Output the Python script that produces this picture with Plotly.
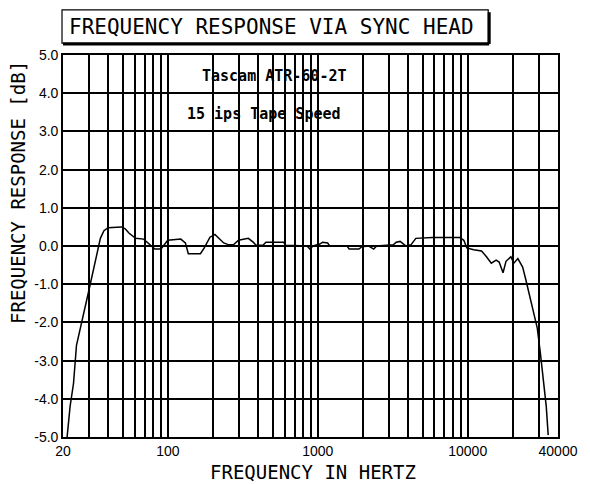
import plotly.graph_objects as go

# Frequency response data (Hz, dB)
freq_hz = [21.3, 22.3, 23.5, 24.6, 30.0, 35.5, 37.5, 40, 49, 52, 55, 61, 69, 77, 82, 90,
           100, 122, 131, 137, 165, 175, 191, 206, 236, 255, 274, 296, 344, 371, 388,
           431, 451, 592, 609, 848, 887, 928, 1031, 1079, 1164, 1199, 1571, 1619,
           1882, 1970, 2188, 2360, 2470, 3190, 3335, 3540, 3707, 3880, 4180, 4508,
           5820, 8870, 9420, 9860, 10960, 12360, 13340, 14360, 15480, 16200, 17200,
           18000, 19400, 20300, 21600, 23240, 24300, 29100, 30500, 31900, 33400, 34400]
response_db = [-5.0, -4.2, -3.6, -2.6, -1.1, 0.2, 0.4, 0.48, 0.5, 0.45, 0.34, 0.2, 0.18, 0.0, -0.08, -0.08,
               0.15, 0.18, 0.08, -0.2, -0.2, -0.05, 0.23, 0.3, 0.08, 0.03, 0.03, 0.15, 0.2, 0.1, 0.02,
               0.02, 0.1, 0.1, 0.02, 0.0, -0.08, 0.0, 0.05, 0.1, 0.08, 0.0, 0.0, -0.08,
               -0.08, -0.02, 0.0, -0.08, 0.0, 0.03, 0.1, 0.12, 0.07, 0.0, 0.03, 0.2,
               0.22, 0.22, 0.15, -0.05, -0.1, -0.13, -0.28, -0.45, -0.37, -0.42, -0.7,
               -0.4, -0.28, -0.45, -0.33, -0.55, -0.85, -2.15, -2.8, -3.5, -4.2, -4.95]

x_grid = [20, 30, 40, 50, 60, 70, 80, 90,
          100, 200, 300, 400, 500, 600, 700, 800, 900,
          1000, 2000, 3000, 4000, 5000, 6000, 7000, 8000, 9000,
          10000, 20000, 30000, 40000]
x_labels = {20: "20", 100: "100", 1000: "1000", 10000: "10000", 40000: "40000"}
y_ticks = [-5, -4, -3, -2, -1, 0, 1, 2, 3, 4, 5]

title_text = "FREQUENCY RESPONSE VIA SYNC HEAD"
x_title = "FREQUENCY IN HERTZ"
y_title = "FREQUENCY RESPONSE [dB]"
note1 = "Tascam ATR-60-2T"
note2 = "15 ips Tape Speed"

fig = go.Figure()
fig.add_trace(go.Scatter(x=freq_hz, y=response_db, mode="lines",
                         line=dict(color="black", width=1.5), showlegend=False,
                         hoverinfo="x+y"))

tick_font = dict(family="Liberation Sans", size=14, color="black")
mono = "DejaVu Sans Mono"

fig.update_layout(
    width=582, height=476,
    margin=dict(l=55, r=22, t=47, b=47),
    paper_bgcolor="white", plot_bgcolor="white",
    xaxis=dict(type="log", range=[1.30103, 4.60206],
               tickvals=x_grid,
               ticktext=[x_labels.get(v, "") for v in x_grid],
               showgrid=True, gridcolor="black", gridwidth=1.6,
               showline=True, linecolor="black", linewidth=1.6, mirror=True,
               ticks="", tickfont=tick_font, zeroline=False),
    yaxis=dict(range=[-5, 5], tickvals=y_ticks,
               ticktext=[f"{v:.1f}" for v in y_ticks],
               showgrid=True, gridcolor="black", gridwidth=1.6,
               showline=True, linecolor="black", linewidth=1.6, mirror=True,
               ticks="", tickfont=tick_font, zeroline=False),
)

# Title box with shadow
fig.add_shape(type="rect", xref="paper", yref="paper",
              x0=-0.002, x1=0.859, y0=1.031, y1=1.118,
              line=dict(color="black", width=1.2), fillcolor="white")
fig.add_shape(type="line", xref="paper", yref="paper",
              x0=0.0, x1=0.861, y0=1.029, y1=1.029, line=dict(color="black", width=3))
fig.add_shape(type="line", xref="paper", yref="paper",
              x0=0.861, x1=0.861, y0=1.029, y1=1.112, line=dict(color="black", width=3))

fig.add_annotation(text=title_text, xref="paper", yref="paper", x=0.008, y=1.073,
                   xanchor="left", yanchor="middle", showarrow=False,
                   font=dict(family=mono, size=21, color="black"))
fig.add_annotation(text=x_title, xref="paper", yref="paper", x=0.505, y=-0.092,
                   xanchor="center", yanchor="middle", showarrow=False,
                   font=dict(family=mono, size=19, color="black"))
fig.add_annotation(text=y_title, xref="paper", yref="paper", x=-0.092, y=0.64,
                   xanchor="center", yanchor="middle", showarrow=False, textangle=-90,
                   font=dict(family=mono, size=19, color="black"))
fig.add_annotation(text="<b>" + note1 + "</b>", xref="paper", yref="paper", x=0.428, y=0.945,
                   xanchor="center", yanchor="middle", showarrow=False,
                   font=dict(family=mono, size=15, color="black"))
fig.add_annotation(text="<b>" + note2 + "</b>", xref="paper", yref="paper", x=0.406, y=0.846,
                   xanchor="center", yanchor="middle", showarrow=False,
                   font=dict(family=mono, size=15, color="black"))

fig.write_html("out.html")
